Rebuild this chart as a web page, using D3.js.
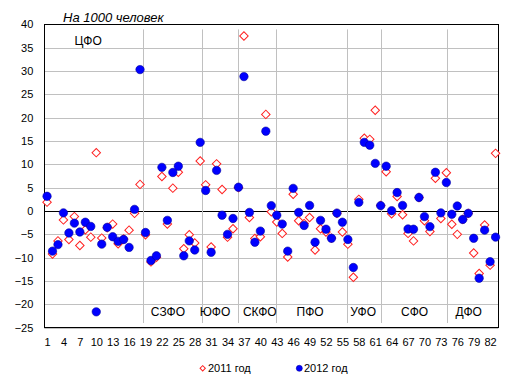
<!DOCTYPE html>
<html>
<head>
<meta charset="utf-8">
<script src="https://cdnjs.cloudflare.com/ajax/libs/d3/7.8.5/d3.min.js"></script>
<style>
  body { margin: 0; background: #fff; }
  text { font-family: Arial, "Liberation Sans", sans-serif; }
</style>
</head>
<body>
<script>
// regions 1..83, rate per 1000 people
var y2011 = [1.9, -9.2, -6.4, -1.9, -6.1, -1.2, -7.4, -4.0, -5.6, 12.5,
  -5.8, -3.6, -2.8, -7.0, -6.0, -4.1, -0.5, 5.7, -5.1, -10.9,
  -9.9, 7.4, -2.8, 4.9, 8.3, -8.1, -5.1, -6.85, 10.7, 5.6,
  -7.7, 10.1, 4.6, -5.6, -3.8, 5.0, 37.5, -1.4, -5.9, -5.5,
  20.7, -0.15, -2.35, -4.8, -9.85, 3.6, -2.1, -2.7, -1.4, -8.35,
  -3.8, -4.5, -5.8, -0.5, -4.5, -7.1, -14.2, 2.5, 15.6, 15.35,
  21.6, 1.2, 8.4, -0.6, 3.1, -0.8, -4.8, -6.4, 2.9, -2.1,
  -4.4, 7.0, -1.6, 8.2, -2.85, -5.0, -1.8, -0.5, -9.0, -13.4,
  -3.0, -11.6, 12.35];
var y2012 = [3.15, -8.6, -7.2, -0.4, -4.7, -2.6, -4.5, -2.4, -3.3, -21.6,
  -7.1, -3.5, -5.5, -6.5, -6.1, -7.8, 0.35, 30.3, -4.6, -10.6,
  -9.6, 9.35, -2.0, 8.25, 9.6, -9.6, -6.4, -8.35, 14.7, 4.4,
  -8.85, 8.7, -0.9, -5.0, -1.6, 5.1, 28.8, -0.3, -6.7, -4.3,
  17.1, 1.15, -0.9, -2.8, -8.6, 4.85, -0.3, -3.1, 1.2, -6.7,
  -2.0, -3.9, -5.85, -0.45, -2.4, -6.1, -12.1, 1.85, 14.7, 14.1,
  10.2, 1.15, 9.6, 0.07, 3.95, 1.2, -3.85, -3.9, 2.9, -1.2,
  -3.35, 8.3, -0.4, 6.1, -0.7, 1.07, -1.8, -0.5, -5.85, -14.4,
  -4.1, -10.85, -5.6];
var xTicks = [1, 4, 7, 10, 13, 16, 19, 22, 25, 28, 31, 34, 37, 40, 43, 46, 49, 52, 55, 58, 61, 64, 67, 70, 73, 76, 79, 82];
var yTicks = [-25, -20, -15, -10, -5, 0, 5, 10, 15, 20, 25, 30, 35, 40];
var districts = ["ЦФО", "СЗФО", "ЮФО", "СКФО", "ПФО", "УФО", "СФО", "ДФО"];
var boundaries = [18.6, 29.4, 35.85, 42.95, 55.9, 62.05, 74.05];
var seriesNames = ["2011 год", "2012 год"];

// layout
var labelAt = [8.5, 23.1, 31.7, 39.9, 49.1, 58.8, 68.2, 78.1];

var svg = d3.select("body").append("svg")
    .attr("width", 515).attr("height", 392);

var x = d3.scaleLinear().domain([0.5, 83.5]).range([44.3, 498.3]);
var y = d3.scaleLinear().domain([-25, 40]).range([327.7, 24.3]);

// gridlines
svg.append("g").selectAll("line").data(yTicks).enter().append("line")
    .attr("x1", x(0.5)).attr("x2", x(83.5))
    .attr("y1", function(d) { return Math.round(y(d)) + 0.5; })
    .attr("y2", function(d) { return Math.round(y(d)) + 0.5; })
    .attr("stroke", function(d) { return d === 0 ? "#000" : "#c0c0c0"; })
    .attr("stroke-width", 1);

// district separators
svg.append("g").selectAll("line").data(boundaries).enter().append("line")
    .attr("x1", function(d) { return Math.round(x(d)) + 0.5; })
    .attr("x2", function(d) { return Math.round(x(d)) + 0.5; })
    .attr("y1", y(38.9)).attr("y2", y(-24))
    .attr("stroke", "#c0c0c0").attr("stroke-width", 1);

// plot border
svg.append("rect")
    .attr("x", 44.5).attr("y", 24.5)
    .attr("width", 454).attr("height", 303)
    .attr("fill", "none").attr("stroke", "#000").attr("stroke-width", 1);

var xAxis = svg.append("g")
    .attr("transform", "translate(0," + y(-25) + ")")
    .call(d3.axisBottom(x).tickValues(xTicks).tickSize(0).tickPadding(11));
var yAxis = svg.append("g")
    .attr("transform", "translate(" + x(0.5) + ",0)")
    .call(d3.axisLeft(y).tickValues(yTicks).tickSize(0).tickPadding(11));
[xAxis, yAxis].forEach(function(a) {
  a.select(".domain").remove();
  a.selectAll("text").attr("font-size", 11).attr("fill", "#000")
    .style("font-family", "Arial, 'Liberation Sans', sans-serif");
});

// district labels
svg.append("g").selectAll("text").data(districts).enter().append("text")
    .attr("x", function(d, i) { return x(labelAt[i]); })
    .attr("y", function(d, i) { return i === 0 ? y(35.6) : y(-22.6); })
    .attr("text-anchor", "middle")
    .attr("font-size", 12)
    .text(function(d) { return d; });

// title
svg.append("text")
    .attr("x", 63).attr("y", 22.3)
    .attr("font-size", 13).attr("font-style", "italic")
    .text("На 1000 человек");

var diamond = d3.symbol().type(d3.symbolSquare).size(36);

// 2011 series
svg.append("g").selectAll("path").data(y2011).enter().append("path")
    .attr("d", diamond)
    .attr("transform", function(d, i) { return "translate(" + x(i + 1) + "," + y(d) + ") rotate(45)"; })
    .attr("fill", "#fff").attr("stroke", "#ff2020").attr("stroke-width", 1);

// 2012 series
svg.append("g").selectAll("circle").data(y2012).enter().append("circle")
    .attr("cx", function(d, i) { return x(i + 1); })
    .attr("cy", function(d) { return y(d); })
    .attr("r", 4.2)
    .attr("fill", "#0000ff").attr("stroke", "#0000a0").attr("stroke-width", 0.6);

// legend
var lg = svg.append("g");
lg.append("path")
    .attr("d", d3.symbol().type(d3.symbolSquare).size(14))
    .attr("transform", "translate(202.7,368.3) rotate(45)")
    .attr("fill", "#fff").attr("stroke", "#ff2020").attr("stroke-width", 1);
lg.append("text").attr("x", 208).attr("y", 372.3).attr("font-size", 11).text(seriesNames[0]);
lg.append("circle").attr("cx", 299.3).attr("cy", 368.3).attr("r", 3)
    .attr("fill", "#0000ff").attr("stroke", "#0000a0").attr("stroke-width", 0.6);
lg.append("text").attr("x", 304).attr("y", 372.3).attr("font-size", 11).text(seriesNames[1]);
</script>
</body>
</html>
